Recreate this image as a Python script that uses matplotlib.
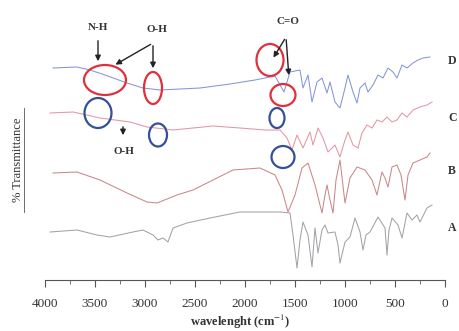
import matplotlib
matplotlib.use("Agg")
import matplotlib.pyplot as plt
from matplotlib.patches import Ellipse
from matplotlib.ticker import MultipleLocator

plt.rcParams['font.family'] = ['Liberation Serif', 'DejaVu Serif']
plt.rcParams['mathtext.fontset'] = 'stix'

# ---- data (wavenumber cm-1, transmittance arbitrary offset units) ----
wn_D = [3920, 3680, 3550, 3400, 3180, 3020, 2850, 2650, 2450, 2150, 1900, 1700, 1610, 1550,
        1450, 1420, 1370, 1330, 1280, 1230, 1180, 1150, 1100, 1050, 1000, 970, 920, 880, 850,
        800, 770, 720, 670, 620, 570, 520, 480, 430, 380, 320, 270, 220, 150]
T_D = [212, 213, 210, 205, 197, 192, 190, 191, 192, 196, 200, 204, 188, 208,
       210, 192, 205, 178, 198, 202, 187, 198, 178, 172, 192, 205, 188, 177, 192,
       197, 188, 195, 205, 202, 212, 208, 202, 215, 212, 217, 220, 222, 223]

wn_C = [3950, 3720, 3580, 3450, 3300, 3150, 2980, 2720, 2320, 2050, 1800, 1650, 1580, 1530,
        1480, 1420, 1350, 1320, 1270, 1220, 1170, 1100, 1050, 1000, 970, 920, 870, 830, 780,
        730, 680, 630, 580, 530, 480, 430, 380, 320, 250, 180, 130]
T_C = [167, 168, 165, 162, 160, 158, 153, 150, 154, 152, 150, 150, 142, 130,
       145, 132, 148, 135, 152, 142, 128, 135, 123, 140, 148, 135, 132, 147, 155,
       152, 160, 158, 163, 158, 160, 167, 163, 170, 173, 175, 178]

wn_B = [3920, 3680, 3450, 3180, 2980, 2880, 2680, 2520, 2320, 2120, 1850, 1700, 1630, 1570,
        1500, 1430, 1370, 1300, 1230, 1200, 1180, 1150, 1120, 1090, 1050, 1000, 950, 880, 800,
        730, 680, 630, 600, 570, 530, 480, 440, 400, 370, 320, 250, 180, 150]
T_B = [107, 108, 100, 87, 78, 77, 85, 90, 100, 110, 112, 105, 90, 68,
       85, 112, 117, 95, 67, 85, 95, 80, 67, 100, 120, 77, 102, 113, 110,
       100, 85, 108, 102, 93, 113, 115, 105, 80, 105, 117, 120, 123, 127]

wn_A = [3950, 3680, 3480, 3350, 3120, 3020, 2920, 2870, 2820, 2770, 2720, 2580, 2350, 2050,
        1650, 1550, 1520, 1480, 1450, 1420, 1370, 1330, 1300, 1270, 1230, 1200, 1170, 1100,
        1070, 1050, 1000, 950, 900, 850, 820, 790, 750, 670, 600, 580, 560, 530, 470, 430,
        380, 330, 280, 250, 180, 130]
T_A = [48, 50, 45, 43, 48, 50, 45, 40, 42, 38, 52, 57, 62, 68,
       68, 67, 45, 12, 40, 58, 45, 13, 52, 27, 50, 55, 47, 48,
       35, 17, 38, 43, 62, 48, 30, 45, 48, 63, 52, 25, 50, 62, 55, 42,
       67, 60, 65, 58, 72, 75]

series_labels = ["D", "C", "B", "A"]
series_colors = ["#8595d8", "#e595a4", "#c88889", "#a2a2a8"]
x_ticks = [4000, 3500, 3000, 2500, 2000, 1500, 1000, 500, 0]

W, H = 459, 331
fig = plt.figure(figsize=(W / 100, H / 100), dpi=100)

ax = fig.add_axes([45 / W, (H - 280) / H, 400 / W, 270 / H])
for wn, T, c in zip([wn_D, wn_C, wn_B, wn_A], [T_D, T_C, T_B, T_A], series_colors):
    ax.plot(wn, T, color=c, lw=0.75)
ax.set_xlim(4000, 0)
ax.set_ylim(0, 270)
for s in ["top", "right", "left"]:
    ax.spines[s].set_visible(False)
ax.spines["bottom"].set_color("#555555")
ax.spines["bottom"].set_linewidth(0.8)
ax.set_yticks([])
ax.set_xticks(x_ticks)
ax.xaxis.set_minor_locator(MultipleLocator(250))
ax.tick_params(axis="x", which="major", length=5, width=0.8, color="#555555",
               labelsize=9.5, labelcolor="#333333", pad=8)
ax.tick_params(axis="x", which="minor", length=3, width=0.7, color="#777777")
ax.patch.set_alpha(0)

# ---- overlay in pixel coordinates for annotations ----
ov = fig.add_axes([0, 0, 1, 1])
ov.set_xlim(0, W)
ov.set_ylim(H, 0)
ov.axis("off")
ov.patch.set_alpha(0)

red, blue = "#e0303c", "#34509a"
for (cx, cy, w, h, c) in [(105, 80, 42, 30, red), (153, 88, 18, 32, red),
                          (98, 113, 27, 30, blue), (158, 135, 18, 23, blue),
                          (270, 60, 27, 32, red), (283, 95, 25, 22, red),
                          (277, 118, 15, 20, blue), (283, 157, 23, 22, blue)]:
    ov.add_patch(Ellipse((cx, cy), w, h, fill=False, ec=c, lw=1.6))

tkw = dict(fontsize=8, fontweight="bold", color="#333333", ha="center", va="center")
ov.text(98, 27, "N-H", **tkw)
ov.text(157, 30, "O-H", **tkw)
ov.text(124, 152, "O-H", **tkw)
ov.text(288, 22, "C=O", **tkw)

akw = dict(arrowstyle="-|>", color="#222222", lw=1.0, mutation_scale=8)
ov.annotate("", xy=(98, 64), xytext=(98, 38), arrowprops=akw)
ov.annotate("", xy=(113, 66), xytext=(153, 43), arrowprops=akw)
ov.annotate("", xy=(153, 71), xytext=(153, 43), arrowprops=akw)
ov.annotate("", xy=(123, 138), xytext=(123, 124), arrowprops=akw)
ov.annotate("", xy=(272, 60), xytext=(286, 37), arrowprops=akw)
ov.annotate("", xy=(289, 78), xytext=(286, 37), arrowprops=akw)

for lab, y in zip(series_labels, [61, 118, 171, 228]):
    ov.text(448, y, lab, fontsize=8.5, fontweight="bold", color="#333333", ha="left", va="center")

ov.text(18, 160, "% Transmittance", rotation=90, fontsize=9, color="#333333",
        ha="center", va="center")
ov.plot([24, 24], [108, 212], color="#555555", lw=0.6)
ov.text(240, 322, r"wavelenght (cm$^{-1}$)", fontsize=9, fontweight="bold",
        color="#333333", ha="center", va="center")

fig.savefig("out.png", dpi=100)
